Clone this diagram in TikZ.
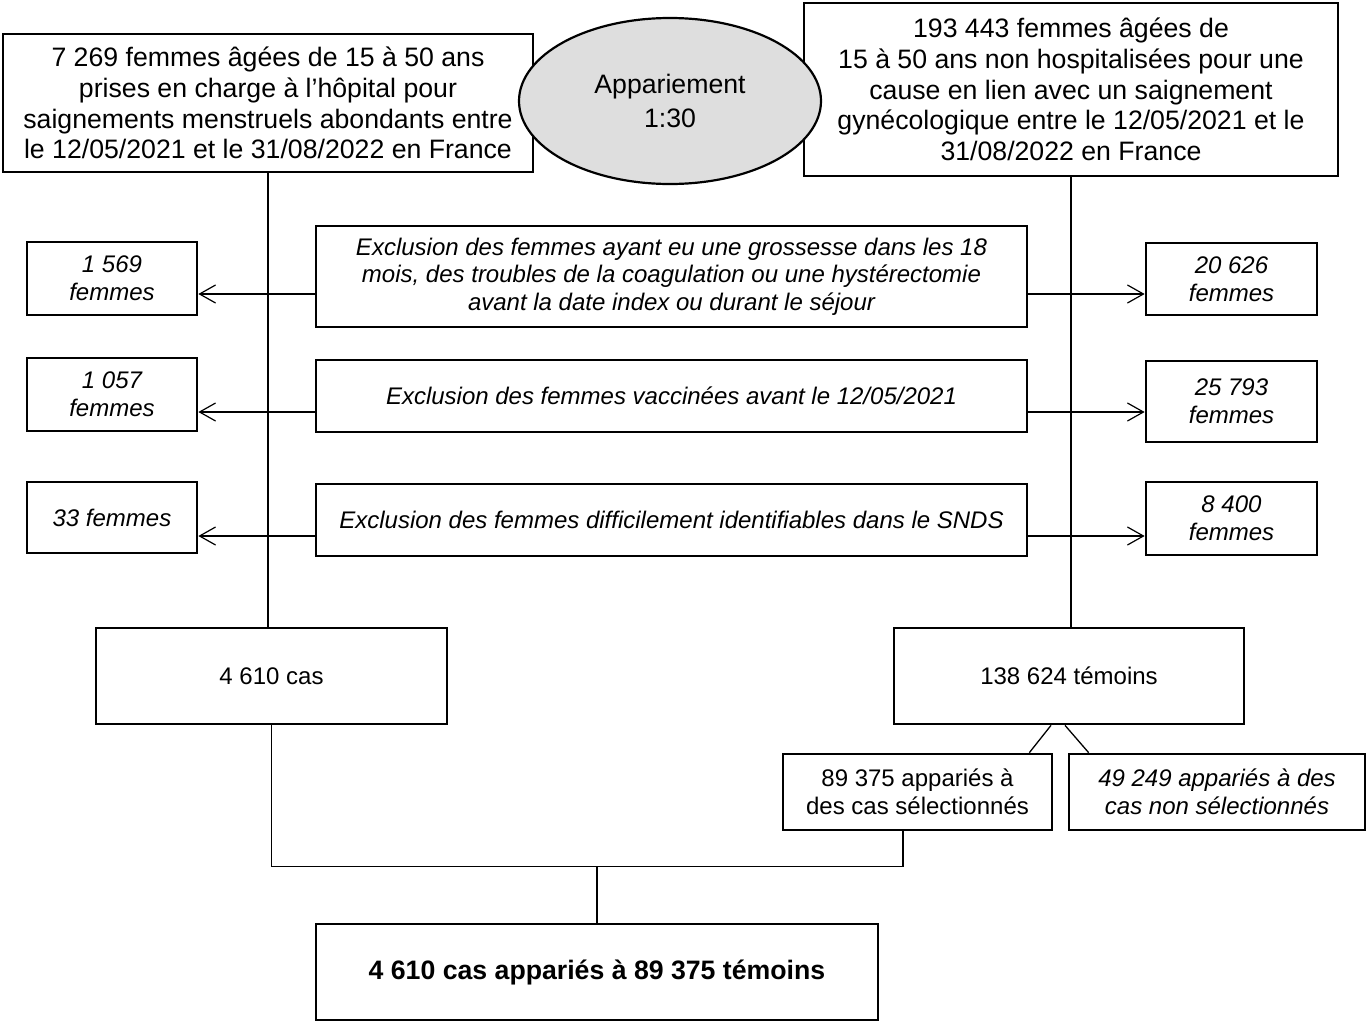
\documentclass[tikz,border=0pt]{standalone}
\usepackage{fontspec}
\setmainfont{Liberation Sans}
\usetikzlibrary{arrows.meta,shapes.geometric}
\newcommand{\bigtxt}{\fontsize{26.67}{30.7}\selectfont}
\newcommand{\medtxt}{\fontsize{24}{27.6}\selectfont}
\begin{document}
\begin{tikzpicture}[x=1pt,y=-1pt,
  box/.style={draw, line width=2.7pt, fill=white, inner sep=0pt, align=center},
  conn/.style={line width=1.3pt},
  trunk/.style={line width=1.7pt},
  arr/.style={line width=1.2pt, -{Straight Barb[length=16pt,width=18pt,line width=1.2pt]}}]
\fill[white] (0,0) rectangle (1366,1023);
\useasboundingbox (0,0) rectangle (1366,1023);

% top boxes
\node[box, minimum width=530pt, minimum height=138pt, font=\bigtxt] (A) at (268,103)
  {7 269 femmes âgées de 15 à 50 ans\\prises en charge à l’hôpital pour\\saignements menstruels abondants entre\\le 12/05/2021 et le 31/08/2022 en France};
\node[box, minimum width=534pt, minimum height=173pt, font=\bigtxt] (B) at (1071,89.5)
  {193 443 femmes âgées de\\15 à 50 ans non hospitalisées pour une\\cause en lien avec un saignement\\gynécologique entre le 12/05/2021 et le\\31/08/2022 en France};
\node[ellipse, draw, line width=2.2pt, fill=black!13, inner sep=0pt, minimum width=302pt, minimum height=166pt, align=center, font=\fontsize{26.67}{34}\selectfont] (M) at (670,101)
  {Appariement\\1:30};

% exclusion boxes
\node[box, minimum width=711pt, minimum height=101pt, font=\medtxt\itshape] (E1) at (671.5,276.5)
  {Exclusion des femmes ayant eu une grossesse dans les 18\\mois, des troubles de la coagulation ou une hystérectomie\\avant la date index ou durant le séjour};
\node[box, minimum width=711pt, minimum height=72pt, font=\medtxt\itshape] (E2) at (671.5,396)
  {Exclusion des femmes vaccinées avant le 12/05/2021};
\node[box, minimum width=711pt, minimum height=72pt, font=\medtxt\itshape] (E3) at (671.5,520)
  {Exclusion des femmes difficilement identifiables dans le SNDS};

% left counts
\node[box, minimum width=170pt, minimum height=73pt, font=\medtxt\itshape] (L1) at (112,278.5) {1 569\\femmes};
\node[box, minimum width=170pt, minimum height=73pt, font=\medtxt\itshape] (L2) at (112,394.5) {1 057\\femmes};
\node[box, minimum width=170pt, minimum height=71pt, font=\medtxt\itshape] (L3) at (112,517.5) {33 femmes};

% right counts
\node[box, minimum width=171pt, minimum height=72pt, font=\medtxt\itshape] (R1) at (1231.5,279) {20 626\\femmes};
\node[box, minimum width=171pt, minimum height=81pt, font=\medtxt\itshape] (R2) at (1231.5,401.5) {25 793\\femmes};
\node[box, minimum width=171pt, minimum height=73pt, font=\medtxt\itshape] (R3) at (1231.5,518.5) {8 400\\femmes};

% lower boxes
\node[box, minimum width=351pt, minimum height=96pt, font=\medtxt] (C) at (271.5,676) {4 610 cas};
\node[box, minimum width=350pt, minimum height=96pt, font=\medtxt] (T) at (1069,676) {138 624 témoins};
\node[box, minimum width=269pt, minimum height=76pt, font=\medtxt] (S1) at (917.5,792) {89 375 appariés à\\des cas sélectionnés};
\node[box, minimum width=296pt, minimum height=76pt, font=\medtxt\itshape] (S2) at (1217,792) {49 249 appariés à des\\cas non sélectionnés};
\node[box, minimum width=562pt, minimum height=96pt, font=\bigtxt\bfseries] (F) at (597,972) {4 610 cas appariés à 89 375 témoins};

% trunks
\draw[trunk] (A.south) -- (A.south |- C.north);
\draw[trunk] (B.south) -- (B.south |- T.north);

% exclusion arrows
\draw[arr] ([yshift=-17.5pt]E1.west) -- ([yshift=-17.5pt]E1.west -| L1.east);
\draw[arr] ([yshift=-16pt]E2.west) -- ([yshift=-16pt]E2.west -| L2.east);
\draw[arr] ([yshift=-16pt]E3.west) -- ([yshift=-16pt]E3.west -| L3.east);
\draw[arr] ([yshift=-17.5pt]E1.east) -- ([yshift=-17.5pt]E1.east -| R1.west);
\draw[arr] ([yshift=-16pt]E2.east) -- ([yshift=-16pt]E2.east -| R2.west);
\draw[arr] ([yshift=-16pt]E3.east) -- ([yshift=-16pt]E3.east -| R3.west);

% split of controls
\draw[conn] ([xshift=-18pt]T.south) -- ([xshift=-24pt]S1.north east);
\draw[conn] ([xshift=-4pt]T.south) -- ([xshift=21pt]S2.north west);

% merge
\coordinate (J) at ([yshift=56pt]F.north);
\draw[conn] (C.south) |- ([xshift=-14.5pt]S1.south |- J) -- ([xshift=-14.5pt]S1.south);
\draw[conn] (J) -- (F.north);
\end{tikzpicture}
\end{document}
